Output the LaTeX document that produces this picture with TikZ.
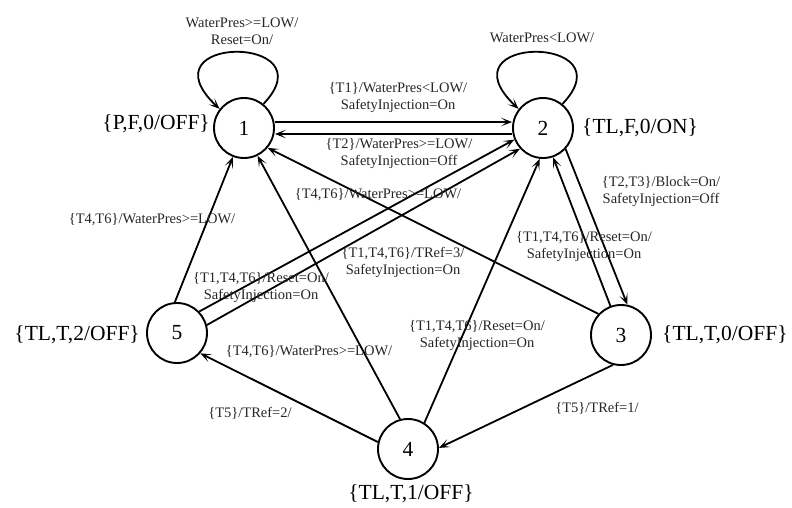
\documentclass[tikz,border=0pt]{standalone}
\usepackage{fontspec}
\setmainfont{Liberation Serif}
\usetikzlibrary{arrows.meta,calc}
\begin{document}
\begin{tikzpicture}[x=1pt,y=-1pt,
  state/.style={circle,draw,line width=1.9pt,minimum size=60pt,inner sep=0pt,font=\fontsize{21.5}{24}\selectfont},
  slabel/.style={inner sep=0pt,font=\fontsize{21.5}{24}\selectfont},
  elabel/.style={inner sep=0pt,align=center,text=black!85,font=\fontsize{14.5}{17}\selectfont},
  arr/.style={line width=1.8pt,-{Stealth[length=11pt,width=8.5pt,inset=6pt]}},
  ln/.style={line width=1.8pt}]
\useasboundingbox (0,0) rectangle (792,507);
% states
\node[state] (n1) at (244,128) {1};
\node[state] (n2) at (543,128) {2};
\node[state] (n3) at (621,335) {3};
\node[state] (n4) at (408,449) {4};
\node[state] (n5) at (177,333) {5};
% state labels
\node[slabel,anchor=east] (s1) at (210,124) {\{P,F,0/OFF\}};
\node[slabel,anchor=west] (s2) at (582,128) {\{TL,F,0/ON\}};
\node[slabel,anchor=west] (s3) at (662,335) {\{TL,T,0/OFF\}};
\node[slabel] (s4) at (411,494) {\{TL,T,1/OFF\}};
\node[slabel,anchor=east] (s5) at (140,335) {\{TL,T,2/OFF\}};
% self loops
\draw[arr] (n1.51) .. controls ($(n1)+(86,-94)$) and ($(n1)+(-104,-94)$) .. (n1.142);
\draw[arr] (n2.51) .. controls ($(n2)+(86,-94)$) and ($(n2)+(-104,-94)$) .. (n2.142);
% transitions
\draw[arr] ([yshift=6pt]n1.east) -- ([yshift=6pt]n2.west);
\draw[arr] ([yshift=-6pt]n2.west) -- ([yshift=-6pt]n1.east);
\draw[arr] (n3.137) -- (n1.320);
\draw[arr] (n4.105) -- (n1.296);
\draw[arr] (n5.94) -- (n1.249);
\draw[arr] (n5.44) -- (n2.202);
\draw[arr] (n5.15) -- (n2.222);
\draw[arr] (n4.58) -- (n2.264);
\draw[arr] (n3.110) -- (n2.289);
\draw[arr] (n2.317) -- (n3.78);
\draw[arr] (n3.255) -- (n4.2);
\draw[arr] (n4.167) -- (n5.319);
% edge labels
\node[elabel] (l11) at (242,31) {WaterPres>=LOW/\\Reset=On/};
\node[elabel] (l22) at (542,38) {WaterPres<LOW/};
\node[elabel] (l12) at (398,98) {\{T1\}/WaterPres<LOW/\\SafetyInjection=On};
\node[elabel] (l21) at (399,154) {\{T2\}/WaterPres>=LOW/\\SafetyInjection=Off};
\node[elabel] (l31) at (378,195) {\{T4,T6\}/WaterPres>=LOW/};
\node[elabel] (l52b) at (403,262) {\{T1,T4,T6\}/TRef=3/\\SafetyInjection=On};
\node[elabel] (l52a) at (261,288) {\{T1,T4,T6\}/Reset=On/\\SafetyInjection=On};
\node[elabel] (l51) at (152,220) {\{T4,T6\}/WaterPres>=LOW/};
\node[elabel] (l41) at (309,352) {\{T4,T6\}/WaterPres>=LOW/};
\node[elabel] (l42) at (477,336) {\{T1,T4,T6\}/Reset=On/\\SafetyInjection=On};
\node[elabel] (l32) at (584,247) {\{T1,T4,T6\}/Reset=On/\\SafetyInjection=On};
\node[elabel] (l23) at (661,192) {\{T2,T3\}/Block=On/\\SafetyInjection=Off};
\node[elabel] (l34) at (597,408) {\{T5\}/TRef=1/};
\node[elabel] (l45) at (250,413) {\{T5\}/TRef=2/};
\end{tikzpicture}
\end{document}
